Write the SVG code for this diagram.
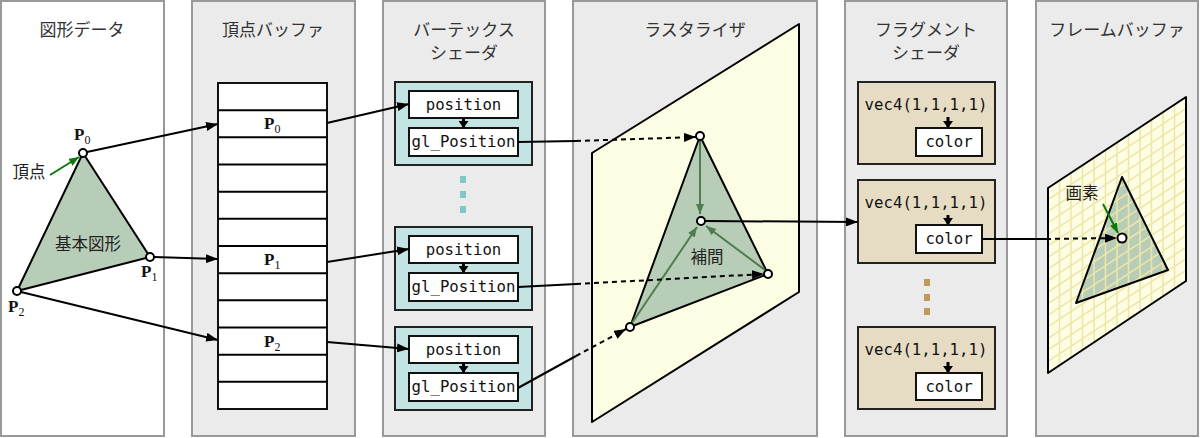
<svg xmlns="http://www.w3.org/2000/svg" width="1200" height="438" viewBox="0 0 1200 438">
<defs>
<style>
.panel{fill:#ebebeb;stroke:#999;stroke-width:2}
.title{font-family:"Noto Sans CJK JP",sans-serif;font-size:17px;fill:#333;text-anchor:middle}
.jp{font-family:"Noto Sans CJK JP",sans-serif;font-size:16.5px;fill:#222;text-anchor:middle}
.pl{font-family:"Liberation Serif",serif;font-size:17px;font-weight:bold;fill:#111}
.sub{font-size:12px;font-weight:normal}
.code{font-family:"DejaVu Sans Mono",monospace;font-size:15.7px;fill:#111;text-anchor:middle}
.vs{fill:#c4e4e4;stroke:#222;stroke-width:2}
.fs{fill:#e6dcc4;stroke:#222;stroke-width:2}
.box{fill:#fff;stroke:#111;stroke-width:2}
.tri{fill:#b8cdb8;stroke:#000;stroke-width:2;stroke-linejoin:round}
.plane{fill:#fdfde3;stroke:#000;stroke-width:2;stroke-linejoin:round}
.pt{fill:#fff;stroke:#000;stroke-width:2}
.ln{stroke:#000;stroke-width:2;fill:none}
.dash{stroke:#000;stroke-width:2;fill:none;stroke-dasharray:5 4}
.small{stroke:#000;stroke-width:3;fill:none}
.garr{stroke:#4f7d4f;stroke-width:2;fill:none}
.green{stroke:#0a7a0a;stroke-width:2;fill:none}
.grid{stroke:#ede6a6;stroke-width:1.5;fill:none}
.tdot{fill:#80c8c8}
.fdot{fill:#bf9a5a}
</style>
<marker id="ah" viewBox="0 0 12 9" refX="12" refY="4.5" markerWidth="12" markerHeight="9" markerUnits="userSpaceOnUse" orient="auto"><path d="M0,0 L12,4.5 L0,9 z" fill="#000"/></marker>
<marker id="ahs" viewBox="0 0 7 10" refX="7" refY="5" markerWidth="7" markerHeight="10" markerUnits="userSpaceOnUse" orient="auto"><path d="M0,0 L7,5 L0,10 z" fill="#000"/></marker>
<marker id="ahg" viewBox="0 0 10 8" refX="10" refY="4" markerWidth="10" markerHeight="8" markerUnits="userSpaceOnUse" orient="auto"><path d="M0,0 L10,4 L0,8 z" fill="#0a7a0a"/></marker>
<marker id="ahd" viewBox="0 0 10 8" refX="10" refY="4" markerWidth="10" markerHeight="8" markerUnits="userSpaceOnUse" orient="auto"><path d="M0,0 L10,4 L0,8 z" fill="#4f7d4f"/></marker>
<clipPath id="fbclip"><polygon points="1048,188 1186,97 1186,281 1048,373"/></clipPath>
</defs>

<g id="panel-shape-data">
<rect x="1" y="1" width="163" height="435" fill="#fff" stroke="#999" stroke-width="2"/>
<text class="title" x="82" y="36">図形データ</text>
<polygon class="tri" points="83,153 150,257 17,291"/>
<text class="jp" x="88" y="250">基本図形</text>
<line class="green" x1="50" y1="175" x2="79" y2="157" marker-end="url(#ahg)"/>
<text class="jp" x="29" y="178">頂点</text>
<circle class="pt" cx="83" cy="153" r="4"/>
<circle class="pt" cx="150" cy="257" r="4"/>
<circle class="pt" cx="17" cy="291" r="4"/>
<text class="pl" x="74" y="140">P<tspan class="sub" dy="4">0</tspan></text>
<text class="pl" x="141" y="277">P<tspan class="sub" dy="4">1</tspan></text>
<text class="pl" x="8" y="312">P<tspan class="sub" dy="4">2</tspan></text>
</g>

<g id="panel-vertex-buffer">
<rect class="panel" x="192" y="1" width="163" height="435"/>
<text class="title" x="273" y="36">頂点バッファ</text>
<rect class="box" x="218" y="83" width="109" height="326"/>
<path class="ln" d="M218,110.2H327M218,137.3H327M218,164.5H327M218,191.7H327M218,218.8H327M218,246H327M218,273.2H327M218,300.3H327M218,327.5H327M218,354.7H327M218,381.8H327"/>
<text class="pl" x="264" y="129">P<tspan class="sub" dy="4">0</tspan></text>
<text class="pl" x="264" y="265">P<tspan class="sub" dy="4">1</tspan></text>
<text class="pl" x="264" y="347">P<tspan class="sub" dy="4">2</tspan></text>
</g>

<g id="panel-vertex-shader">
<rect class="panel" x="383" y="1" width="162" height="435"/>
<text class="title" x="464" y="36">バーテックス</text>
<text class="title" x="464" y="59">シェーダ</text>
<g id="vs0">
<rect class="vs" x="395" y="82" width="137" height="83"/>
<rect class="box" x="409" y="91" width="109" height="27"/>
<text class="code" x="463.5" y="110">position</text>
<line class="small" x1="463.5" y1="118" x2="463.5" y2="128" marker-end="url(#ahs)"/>
<rect class="box" x="409" y="128" width="109" height="28"/>
<text class="code" x="463.5" y="147">gl_Position</text>
</g>
<rect class="tdot" x="460" y="176" width="6" height="7"/>
<rect class="tdot" x="460" y="191" width="6" height="7"/>
<rect class="tdot" x="460" y="206" width="6" height="7"/>
<g id="vs1">
<rect class="vs" x="395" y="227" width="137" height="83"/>
<rect class="box" x="409" y="236" width="109" height="27"/>
<text class="code" x="463.5" y="255">position</text>
<line class="small" x1="463.5" y1="263" x2="463.5" y2="273" marker-end="url(#ahs)"/>
<rect class="box" x="409" y="273" width="109" height="28"/>
<text class="code" x="463.5" y="292">gl_Position</text>
</g>
<g id="vs2">
<rect class="vs" x="395" y="327" width="137" height="83"/>
<rect class="box" x="409" y="336" width="109" height="27"/>
<text class="code" x="463.5" y="355">position</text>
<line class="small" x1="463.5" y1="363" x2="463.5" y2="373" marker-end="url(#ahs)"/>
<rect class="box" x="409" y="373" width="109" height="28"/>
<text class="code" x="463.5" y="392">gl_Position</text>
</g>
</g>

<g id="panel-rasterizer">
<rect class="panel" x="573" y="1" width="244" height="435"/>
<text class="title" x="695" y="36">ラスタライザ</text>
<polygon class="plane" points="592,153 799,24 799,292 592,422"/>
<polygon class="tri" points="700,136 768,274 630,327"/>
<line class="garr" x1="700" y1="140" x2="700" y2="214" marker-end="url(#ahd)"/>
<line class="garr" x1="632" y1="323" x2="697" y2="227" marker-end="url(#ahd)"/>
<line class="garr" x1="765" y1="270" x2="706" y2="226" marker-end="url(#ahd)"/>
<text class="jp" x="707" y="263">補間</text>
<circle class="pt" cx="700" cy="136" r="4"/>
<circle class="pt" cx="768" cy="274" r="4"/>
<circle class="pt" cx="630" cy="327" r="4"/>
<circle class="pt" cx="701" cy="221" r="4"/>
</g>

<g id="panel-fragment-shader">
<rect class="panel" x="845" y="1" width="162" height="435"/>
<text class="title" x="926" y="36">フラグメント</text>
<text class="title" x="926" y="59">シェーダ</text>
<g id="fs0">
<rect class="fs" x="858" y="82" width="137" height="82"/>
<text class="code" x="926" y="110">vec4(1,1,1,1)</text>
<line class="small" x1="948" y1="117" x2="948" y2="128" marker-end="url(#ahs)"/>
<rect class="box" x="916" y="128" width="66" height="28"/>
<text class="code" x="949" y="147">color</text>
</g>
<g id="fs1">
<rect class="fs" x="858" y="180" width="137" height="83"/>
<text class="code" x="926" y="208">vec4(1,1,1,1)</text>
<line class="small" x1="948" y1="215" x2="948" y2="225" marker-end="url(#ahs)"/>
<rect class="box" x="916" y="225" width="66" height="28"/>
<text class="code" x="949" y="244">color</text>
</g>
<rect class="fdot" x="924" y="279" width="6" height="7"/>
<rect class="fdot" x="924" y="294" width="6" height="7"/>
<rect class="fdot" x="924" y="308" width="6" height="7"/>
<g id="fs2">
<rect class="fs" x="858" y="327" width="137" height="82"/>
<text class="code" x="926" y="355">vec4(1,1,1,1)</text>
<line class="small" x1="948" y1="362" x2="948" y2="373" marker-end="url(#ahs)"/>
<rect class="box" x="916" y="373" width="66" height="27"/>
<text class="code" x="949" y="392">color</text>
</g>
</g>

<g id="panel-framebuffer">
<rect class="panel" x="1036" y="1" width="162" height="435"/>
<text class="title" x="1117" y="36">フレームバッファ</text>
<polygon points="1048,188 1186,97 1186,281 1048,373" fill="#fdfde3"/>
<polygon points="1122,177 1168,270 1076,303" fill="#b8cdb8"/>
<g clip-path="url(#fbclip)">
<path class="grid" d="M1059.5,90V380M1071,90V380M1082.5,90V380M1094,90V380M1105.5,90V380M1117,90V380M1128.5,90V380M1140,90V380M1151.5,90V380M1163,90V380M1174.5,90V380
M1048,199.6L1186,108.6M1048,211.1L1186,120.1M1048,222.7L1186,131.7M1048,234.2L1186,143.2M1048,245.8L1186,154.8M1048,257.4L1186,166.4M1048,268.9L1186,177.9M1048,280.5L1186,189.5M1048,292L1186,201M1048,303.6L1186,212.6M1048,315.2L1186,224.2M1048,326.7L1186,235.7M1048,338.3L1186,247.3M1048,349.8L1186,258.8M1048,361.4L1186,270.4"/>
</g>
<polygon points="1048,188 1186,97 1186,281 1048,373" fill="none" stroke="#000" stroke-width="2" stroke-linejoin="round"/>
<polygon points="1122,177 1168,270 1076,303" fill="none" stroke="#000" stroke-width="2" stroke-linejoin="round"/>
<text class="jp" x="1082" y="199">画素</text>
<line class="green" x1="1103" y1="204" x2="1118" y2="233" marker-end="url(#ahg)"/>
<circle class="pt" cx="1122" cy="238" r="4.5"/>
</g>

<g id="connectors">
<line class="ln" x1="87" y1="152" x2="218" y2="124" marker-end="url(#ah)"/>
<line class="ln" x1="154" y1="257" x2="218" y2="259" marker-end="url(#ah)"/>
<line class="ln" x1="21" y1="292" x2="218" y2="340" marker-end="url(#ah)"/>
<line class="ln" x1="327" y1="123" x2="409" y2="104" marker-end="url(#ah)"/>
<line class="ln" x1="327" y1="262" x2="409" y2="249" marker-end="url(#ah)"/>
<line class="ln" x1="327" y1="342" x2="409" y2="349" marker-end="url(#ah)"/>
<line class="ln" x1="518" y1="142" x2="576" y2="141"/>
<line class="dash" x1="576" y1="141" x2="696" y2="137" marker-end="url(#ah)"/>
<line class="ln" x1="518" y1="287" x2="576" y2="284"/>
<line class="dash" x1="576" y1="284" x2="764" y2="274" marker-end="url(#ah)"/>
<line class="ln" x1="518" y1="388" x2="576" y2="356"/>
<line class="dash" x1="576" y1="356" x2="626" y2="329" marker-end="url(#ah)"/>
<line class="ln" x1="705" y1="221" x2="858" y2="222" marker-end="url(#ah)"/>
<line class="ln" x1="982" y1="239" x2="1046" y2="239"/>
<line class="dash" x1="1046" y1="239" x2="1117" y2="238" marker-end="url(#ah)"/>
</g>
</svg>
